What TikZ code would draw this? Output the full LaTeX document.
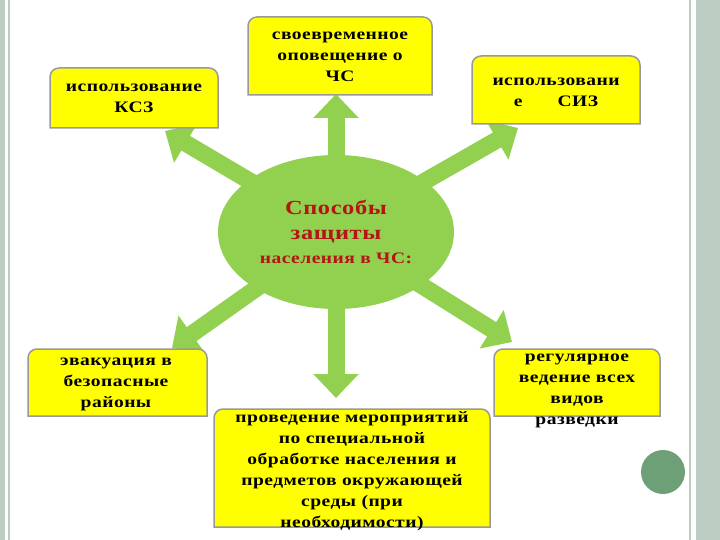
\documentclass[tikz,border=0pt]{standalone}
\usepackage{fontspec}
\setmainfont{Liberation Serif}[LetterSpace=3,FakeStretch=1.22]
\usetikzlibrary{arrows.meta}
\definecolor{grn}{RGB}{146,208,80}
\definecolor{ylw}{RGB}{255,255,0}
\definecolor{frm}{RGB}{190,205,195}
\definecolor{dred}{RGB}{180,20,20}
\definecolor{dot}{RGB}{110,160,120}
\tikzset{
 box/.style={draw=gray!80,line width=1.5pt,fill=ylw},
 txt/.style={font=\bfseries\fontsize{16}{21}\selectfont,align=center,text=black,inner sep=0pt},
 arr/.style={grn,line width=17pt,-{Triangle[width=44pt,length=24pt]}},
}
\newcommand{\ybox}[4]{\path[box] (#1,#4) [rounded corners=9pt] -- (#1,#2) -- (#3,#2) [sharp corners] -- (#3,#4) -- cycle;}
\begin{document}
\begin{tikzpicture}[x=1pt,y=-1pt]
\useasboundingbox (0,0) rectangle (720,540);
\fill[white] (0,0) rectangle (720,540);
\fill[frm] (0,0) rectangle (5,540);
\draw[frm,line width=1.5pt] (9,0) -- (9,540);
\draw[frm,line width=1.5pt] (690,0) -- (690,540);
\fill[frm] (696,0) rectangle (720,540);
% arrows
\coordinate (c) at (336,232);
\coordinate (e1) at (165,131);
\coordinate (e2) at (336,94);
\coordinate (e3) at (518,128);
\coordinate (e4) at (172,348);
\coordinate (e5) at (336,398);
\coordinate (e6) at (512,342);
\foreach \e in {e1,e2,e3,e4,e5,e6} \draw[arr] (c) -- (\e);
\fill[grn] (336,232) ellipse [x radius=118, y radius=77];
\node[font=\bfseries\fontsize{20}{25}\selectfont,text=dred,align=center] (ctr) at (336,222) {Способы\\защиты};
\node[font=\bfseries\fontsize{16}{18}\selectfont,text=dred] (ctr2) at (336,258) {населения в ЧС:};
% boxes
\ybox{50}{68}{218}{128}
\node[txt] (b1) at (134,98) {использование\\КСЗ};
\ybox{248}{17}{432}{95}
\node[txt] (b2) at (340,57) {своевременное\\оповещение о\\ЧС};
\ybox{472}{56}{640}{124}
\node[txt] (b3) at (556,92) {использовани\\е\hspace{2.2em}СИЗ};
\ybox{28}{349}{207}{416}
\node[txt] (b4) at (116,384) {эвакуация в\\безопасные\\районы};
\ybox{494}{349}{660}{416}
\ybox{214}{409}{490}{527}
\node[txt] (b5) at (352,471) {проведение мероприятий\\по специальной\\обработке населения и\\предметов окружающей\\среды (при\\необходимости)};
\node[txt] (b6) at (577,391) {регулярное\\ведение всех\\видов\\разведки};
\fill[dot] (663,472) ellipse [x radius=22, y radius=22];
\end{tikzpicture}
\end{document}
